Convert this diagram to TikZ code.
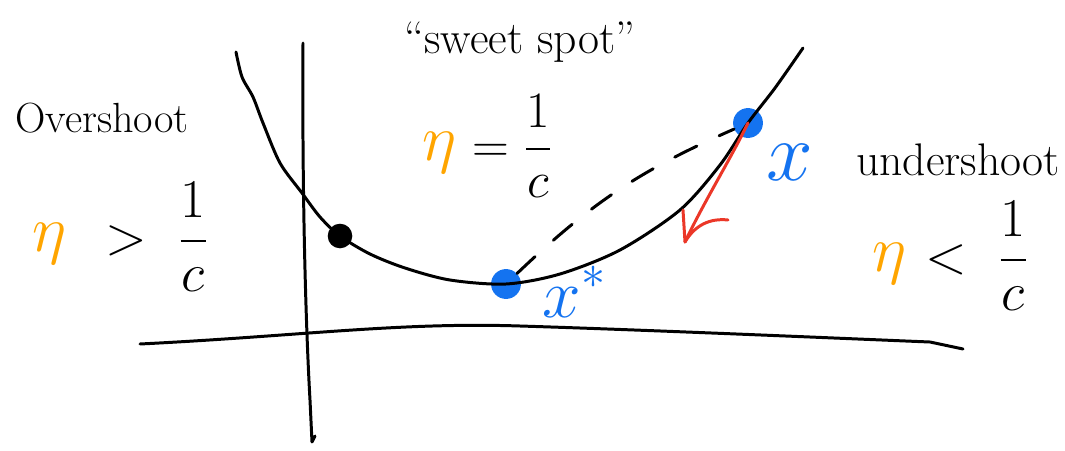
\documentclass[tikz,border=0pt]{standalone}
\usepackage{fontspec}
\usepackage{amsmath}
\usepackage{graphicx}
\definecolor{penorange}{RGB}{255,165,0}
\definecolor{penblue}{RGB}{20,115,240}
\definecolor{penred}{RGB}{235,55,40}
\newcommand{\scaledmath}[2]{\scalebox{#1}{$\displaystyle #2$}}
\begin{document}
\begin{tikzpicture}[x=0.02cm,y=-0.02cm,
  pen/.style={line width=1.7pt,line cap=round,line join=round},
  dot/.style={circle,fill,inner sep=0pt,minimum size=#1},
  lbl/.style={inner sep=0pt,font=\fontsize{24}{28}\selectfont},
  big/.style={inner sep=0pt,font=\fontsize{20}{24}\selectfont},
  eta/.style={inner sep=0pt,text=penorange,font=\fontsize{20}{24}\selectfont}]
\useasboundingbox (0,0) rectangle (1065,450);
% axes
\coordinate (ytop) at (303,43);
\coordinate (ybot) at (312,442);
\draw[pen] (ytop) .. controls (302,200) and (306,330) .. (310,400) -- (ybot) -- (315,436);
\coordinate (xl) at (140,344);
\coordinate (xr) at (963,349);
\draw[pen] (xl) .. controls (300,336) and (400,322) .. (520,326) .. controls (650,330) and (880,340) .. (930,342) -- (xr);
% points
\node[dot=14pt,text=black] (m) at (340,236) {};
\node[dot=17pt,penblue] (xs) at (506,284) {};
\node[dot=17pt,penblue] (x) at (748,123) {};
% curve
\draw[pen] plot[smooth,tension=0.5] coordinates {(236,52) (242,77) (253,97) (263,123) (280,163) (302,193) (320,217) (340,236) (370,254) (405,268) (450,280) (506,284) (560,274) (620,250) (680,210) (720,165) (748,123) (775,88) (803,48)};
% dashed secant
\draw[pen,dash pattern=on 14pt off 14pt] (xs) to[bend left=10] (x);
% gradient step arrow
\coordinate (tip) at (685,242);
\draw[pen,penred] (x.center) .. controls (730,160) and (705,200) .. (tip);
\draw[pen,penred] (683,210) -- (tip) .. controls (695,225) and (710,218) .. (728,220);
% labels
\node[text=penblue,font=\fontsize{20}{24}\selectfont] (xl1) at (790,162) {\scaledmath{2.3}{x}};
\node[text=penblue,font=\fontsize{20}{24}\selectfont] (xl2) at (575,292) {\scaledmath{1.9}{x^{*}}};
\node[lbl] (over) at (102,118) {Overshoot};
\node[lbl,font=\fontsize{26}{30}\selectfont] (under) at (958,160) {undershoot};
\node[lbl,font=\fontsize{26}{30}\selectfont] (sweet) at (520,42) {``sweet spot''};
\node[eta] (e1) at (50,244) {\scaledmath{1.8}{\eta}};
\node[big,anchor=west] (r1) at (105,237) {\scaledmath{1.5}{>\;\frac{1}{c}}};
\node[eta] (e2) at (440,153) {\scaledmath{1.8}{\eta}};
\node[big,anchor=west] (r2) at (472,146) {\scaledmath{1.4}{=\frac{1}{c}}};
\node[eta] (e3) at (890,264) {\scaledmath{1.8}{\eta}};
\node[big,anchor=west] (r3) at (925,256) {\scaledmath{1.5}{<\;\frac{1}{c}}};
\end{tikzpicture}
\end{document}
